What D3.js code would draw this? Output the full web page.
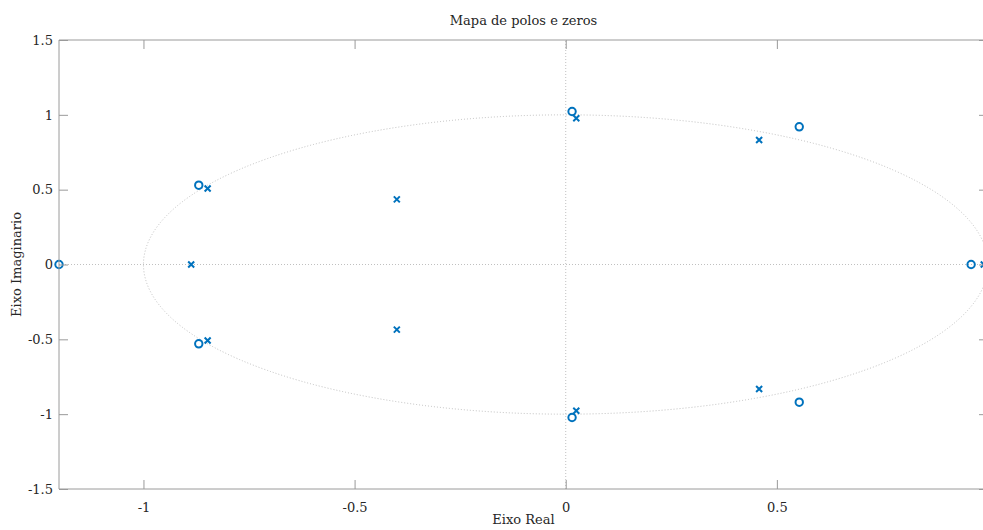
<!DOCTYPE html>
<html>
<head>
<meta charset="utf-8">
<script src="https://cdn.jsdelivr.net/npm/d3@7"></script>
<style>
  html, body { margin: 0; padding: 0; background: #fff; overflow: hidden; }
  svg { display: block; }
  text { font-family: "DejaVu Serif", "Liberation Serif", serif; fill: #262626; }
</style>
</head>
<body>
<svg id="chart" width="983" height="530"></svg>
<script>
// Pole-zero map values
const zerosRe = [-1.2, -0.869, -0.869, 0.015, 0.015, 0.553, 0.553, 0.96];
const zerosIm = [0, 0.53, -0.53, 1.022, -1.022, 0.92, -0.92, 0];
const polesRe = [-0.887, -0.848, -0.848, -0.4, -0.4, 0.025, 0.025, 0.458, 0.458, 0.99];
const polesIm = [0, 0.508, -0.508, 0.435, -0.435, 0.977, -0.977, 0.832, -0.832, 0];

const xTicks = [-1, -0.5, 0, 0.5];
const yTicks = [-1.5, -1, -0.5, 0, 0.5, 1, 1.5];
const xDomain = [-1.2, 1];
const yDomain = [-1.5, 1.5];

const titleText = "Mapa de polos e zeros";
const xLabel = "Eixo Real";
const yLabel = "Eixo Imaginario";

const margin = { left: 59, top: 40, right: -5, bottom: 41 };
const W = 983, H = 530;
const svg = d3.select("#chart");

const x = d3.scaleLinear().domain(xDomain).range([margin.left, W - margin.right]);
const y = d3.scaleLinear().domain(yDomain).range([H - margin.bottom, margin.top]);

const blue = "#0072BD";
const axisColor = "#9a9a9a";
const gridColor = "#b0b0b0";
const tickLen = 9;

// plain hyphen for negative tick labels
const fmt = d => String(d);

const plot = svg.append("g");

// unit circle and the real/imaginary reference lines
plot.append("ellipse")
  .attr("cx", x(0)).attr("cy", y(0))
  .attr("rx", x(1) - x(0)).attr("ry", y(0) - y(1))
  .attr("fill", "none").attr("stroke", gridColor)
  .attr("stroke-width", 0.8).attr("stroke-dasharray", "1,2");

plot.append("line")
  .attr("x1", x(xDomain[0])).attr("x2", x(xDomain[1]))
  .attr("y1", y(0)).attr("y2", y(0))
  .attr("stroke", gridColor).attr("stroke-width", 0.8).attr("stroke-dasharray", "1,2");

plot.append("line")
  .attr("x1", x(0)).attr("x2", x(0))
  .attr("y1", y(yDomain[0])).attr("y2", y(yDomain[1]))
  .attr("stroke", gridColor).attr("stroke-width", 0.8).attr("stroke-dasharray", "1,2");

// axes box with inward ticks on all four sides
const bottomAxis = d3.axisBottom(x).tickValues(xTicks).tickSize(-tickLen).tickPadding(14).tickFormat(fmt);
const topAxis = d3.axisTop(x).tickValues(xTicks).tickSize(-tickLen).tickFormat("");
const leftAxis = d3.axisLeft(y).tickValues(yTicks).tickSize(-tickLen).tickPadding(6).tickFormat(fmt);
const rightAxis = d3.axisRight(y).tickValues(yTicks).tickSize(-tickLen).tickFormat("");

function styleAxis(g) {
  g.selectAll(".domain").attr("stroke", axisColor).attr("stroke-width", 1);
  g.selectAll(".tick line").attr("stroke", axisColor).attr("stroke-width", 1);
  g.selectAll(".tick text").attr("fill", "#262626").style("font-size", "13px")
    .style("font-family", '"DejaVu Serif", "Liberation Serif", serif');
}

svg.append("g").attr("transform", `translate(0,${y(yDomain[0])})`).call(bottomAxis)
  .call(g => g.select(".domain").attr("d", `M${x(xDomain[0])},0H${x(xDomain[1])}`)).call(styleAxis);
svg.append("g").attr("transform", `translate(0,${y(yDomain[1])})`).call(topAxis)
  .call(g => g.select(".domain").attr("d", `M${x(xDomain[0])},0H${x(xDomain[1])}`)).call(styleAxis);
svg.append("g").attr("transform", `translate(${x(xDomain[0])},0)`).call(leftAxis)
  .call(g => g.select(".domain").attr("d", `M0,${y(yDomain[0])}V${y(yDomain[1])}`)).call(styleAxis);
svg.append("g").attr("transform", `translate(${x(xDomain[1])},0)`).call(rightAxis)
  .call(g => g.select(".domain").attr("d", `M0,${y(yDomain[0])}V${y(yDomain[1])}`)).call(styleAxis);

// zeros as open circles
const zeros = zerosRe.map((re, i) => ({ re, im: zerosIm[i] }));
plot.selectAll("circle.zero").data(zeros).enter().append("circle")
  .attr("class", "zero")
  .attr("cx", d => x(d.re)).attr("cy", d => y(d.im))
  .attr("r", 3.7)
  .attr("fill", "none").attr("stroke", blue).attr("stroke-width", 2);

// poles as crosses
const poles = polesRe.map((re, i) => ({ re, im: polesIm[i] }));
const s = 3;
plot.selectAll("path.pole").data(poles).enter().append("path")
  .attr("class", "pole")
  .attr("d", d => {
    const cx = x(d.re), cy = y(d.im);
    return `M${cx - s},${cy - s}L${cx + s},${cy + s}M${cx - s},${cy + s}L${cx + s},${cy - s}`;
  })
  .attr("fill", "none").attr("stroke", blue).attr("stroke-width", 2);

// title and axis labels
const cxPlot = (x(xDomain[0]) + x(xDomain[1])) / 2;
svg.append("text").attr("x", cxPlot).attr("y", 25)
  .attr("text-anchor", "middle").style("font-size", "13px").text(titleText);
svg.append("text").attr("x", cxPlot).attr("y", 524)
  .attr("text-anchor", "middle").style("font-size", "13px").text(xLabel);
svg.append("text")
  .attr("transform", `translate(21,${(y(yDomain[0]) + y(yDomain[1])) / 2}) rotate(-90)`)
  .attr("text-anchor", "middle").style("font-size", "13px").text(yLabel);
</script>
</body>
</html>
